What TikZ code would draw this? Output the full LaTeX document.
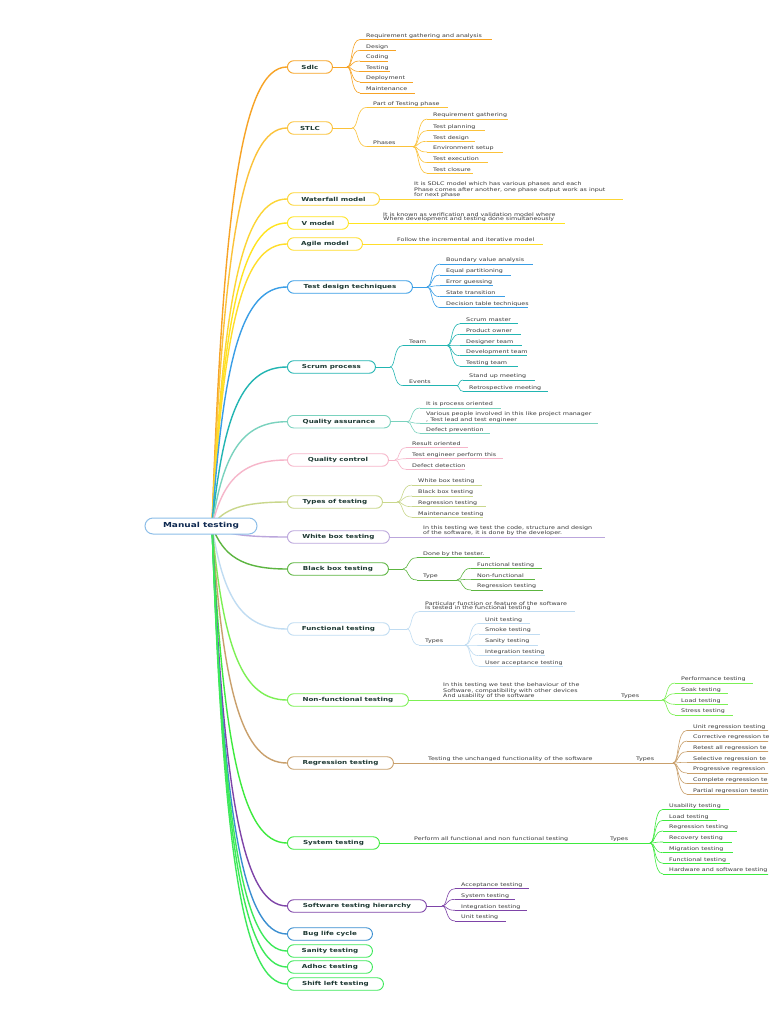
\documentclass[tikz,border=0pt]{standalone}
\usepackage{fontspec}
\setmainfont{DejaVu Sans}
\newfontfamily\leafFont[FakeStretch=1.3]{DejaVu Sans}
\usetikzlibrary{calc}
\definecolor{csdlc}{HTML}{F7A325}
\definecolor{cstlc}{HTML}{FBC23A}
\definecolor{cwater}{HTML}{FCD535}
\definecolor{cvmod}{HTML}{FFE41F}
\definecolor{cagile}{HTML}{FFDD2A}
\definecolor{ctdt}{HTML}{3A9EE6}
\definecolor{cscrum}{HTML}{22B5B2}
\definecolor{cqa}{HTML}{7AD2BE}
\definecolor{cqc}{HTML}{F6B6CA}
\definecolor{ctypes}{HTML}{C9D78C}
\definecolor{cwhite}{HTML}{BBA6DC}
\definecolor{cblack}{HTML}{5CB540}
\definecolor{cfunc}{HTML}{C0DCF2}
\definecolor{cnonf}{HTML}{7CF054}
\definecolor{creg}{HTML}{C9A06C}
\definecolor{csys}{HTML}{3EEA3E}
\definecolor{chier}{HTML}{7E44A8}
\definecolor{cbug}{HTML}{3A8ED0}
\definecolor{csan}{HTML}{3DE95A}
\definecolor{croot}{HTML}{8DBEE8}
\definecolor{roottxt}{HTML}{0D2850}
\definecolor{maintxt}{HTML}{1F3A34}
\definecolor{leafgray}{HTML}{3A3A3A}
\tikzset{
 leaftxt/.style={inner sep=0pt, text depth=0pt, anchor=south west, align=left,
   font=\leafFont\fontsize{4.9}{4.5}\selectfont, text=leafgray},
 mainbox/.style={draw, line width=0.9pt, rounded corners=6.2pt, fill=white,
   minimum height=12.5pt, inner sep=0pt, anchor=west,
   font=\leafFont\bfseries\fontsize{5.5}{6}\selectfont, text=maintxt},
 rootbox/.style={draw=croot, line width=1pt, rounded corners=8pt, fill=white,
   minimum width=112pt, minimum height=16pt, inner sep=0pt,
   font=\leafFont\bfseries\fontsize{6.9}{8}\selectfont, text=roottxt},
 cline/.style={line width=0.6pt},
 uline/.style={line width=0.9pt},
 rline/.style={line width=1.4pt},
}
% leaf: name, colour, text x, underline y, underline end x, text
\newcommand\leaf[6]{%
  \node[leaftxt] (#1) at (#3,#4-2) {#6};
  \coordinate (#1-s) at (#3-6,#4);
  \coordinate (#1-e) at (#5,#4);
  \draw[uline,#2] (#1-s) -- (#1-e);
}
\newcommand\conn[3]{\draw[cline,#1] let \p1=(#2), \p2=(#3) in
  (\p1) .. controls ({\x1+0.45*(\x2-\x1)},\y1) and ({\x1+0.25*(\x2-\x1)},\y2) .. (\p2);}
\newcommand\rconn[2]{\draw[rline,#1] let \p1=(rootc), \p2=(#2.west) in
  (\p1) .. controls ({\x1+0.15*(\x2-\x1)},{\y1+0.7*(\y2-\y1)}) and ({\x1+0.4*(\x2-\x1)},\y2) .. (\p2);}
\begin{document}
\begin{tikzpicture}[x=1pt,y=-1pt]
\useasboundingbox (0,0) rectangle (768,1024);
\fill[white] (0,0) rectangle (768,1024);
\clip (0,0) rectangle (768,1024);
\coordinate (rootc) at (212,526);
% main nodes
\node[mainbox, draw=csdlc, minimum width=45pt] (sdlc) at (287,67) {Sdlc};
\node[mainbox, draw=cstlc, minimum width=45pt] (stlc) at (287,128) {STLC};
\node[mainbox, draw=cwater, minimum width=92pt] (water) at (287,199) {Waterfall model};
\node[mainbox, draw=cvmod, minimum width=61pt] (vmod) at (287,223) {V model};
\node[mainbox, draw=cagile, minimum width=75pt] (agile) at (287,244) {Agile model};
\node[mainbox, draw=ctdt, minimum width=125pt] (tdt) at (287,287) {Test design techniques};
\node[mainbox, draw=cscrum, minimum width=88pt] (scrum) at (287,367) {Scrum process};
\node[mainbox, draw=cqa, minimum width=103pt] (qa) at (287,421.7) {Quality assurance};
\node[mainbox, draw=cqc, minimum width=101pt] (qc) at (287,460) {Quality control};
\node[mainbox, draw=ctypes, minimum width=95pt] (types) at (287,502) {Types of testing};
\node[mainbox, draw=cwhite, minimum width=102pt] (white) at (287,537) {White box testing};
\node[mainbox, draw=cblack, minimum width=101pt] (black) at (287,569) {Black box testing};
\node[mainbox, draw=cfunc, minimum width=102pt] (func) at (287,629) {Functional testing};
\node[mainbox, draw=cnonf, minimum width=121pt] (nonf) at (287,700) {Non-functional testing};
\node[mainbox, draw=creg, minimum width=106pt] (reg) at (287,763) {Regression testing};
\node[mainbox, draw=csys, minimum width=92pt] (sys) at (287,843) {System testing};
\node[mainbox, draw=chier, minimum width=139pt] (hier) at (287,906) {Software testing hierarchy};
\node[mainbox, draw=cbug, minimum width=85pt] (bug) at (287,934) {Bug life cycle};
\node[mainbox, draw=csan, minimum width=85pt] (sanity) at (287,951) {Sanity testing};
\node[mainbox, draw=csan, minimum width=85pt] (adhoc) at (287,967) {Adhoc testing};
\node[mainbox, draw=csan, minimum width=96pt] (shift) at (287,984) {Shift left testing};
% root connectors
\rconn{csdlc}{sdlc}
\rconn{cstlc}{stlc}
\rconn{cwater}{water}
\rconn{cvmod}{vmod}
\rconn{cagile}{agile}
\rconn{ctdt}{tdt}
\rconn{cscrum}{scrum}
\rconn{cqa}{qa}
\rconn{cqc}{qc}
\rconn{ctypes}{types}
\rconn{cwhite}{white}
\rconn{cblack}{black}
\rconn{cfunc}{func}
\rconn{cnonf}{nonf}
\rconn{creg}{reg}
\rconn{csys}{sys}
\rconn{chier}{hier}
\rconn{cbug}{bug}
\rconn{csan}{sanity}
\rconn{csan}{adhoc}
\rconn{csan}{shift}
\node[rootbox] (root) at (201,526) {Manual testing};
% Sdlc
\leaf{s1}{csdlc}{366}{39.5}{492}{Requirement gathering and analysis}
\leaf{s2}{csdlc}{366}{50.3}{396}{Design}
\leaf{s3}{csdlc}{366}{61}{388}{Coding}
\leaf{s4}{csdlc}{366}{71.5}{390}{Testing}
\leaf{s5}{csdlc}{366}{82}{413}{Deployment}
\leaf{s6}{csdlc}{366}{93}{415}{Maintenance}
\coordinate (sdlcB) at (347,67);
\draw[cline,csdlc] (sdlc.east) -- (sdlcB);
\foreach \k in {s1,s2,s3,s4,s5,s6} {\conn{csdlc}{sdlcB}{\k-s}}
% STLC
\leaf{t1}{cstlc}{373}{107.3}{448}{Part of Testing phase}
\leaf{t2}{cstlc}{373}{146.7}{413}{Phases}
\leaf{t21}{cstlc}{433}{119}{508}{Requirement gathering}
\leaf{t22}{cstlc}{433}{130.7}{485}{Test planning}
\leaf{t23}{cstlc}{433}{141.3}{475}{Test design}
\leaf{t24}{cstlc}{433}{152}{503}{Environment setup}
\leaf{t25}{cstlc}{433}{162.7}{488}{Test execution}
\leaf{t26}{cstlc}{433}{173.3}{473}{Test closure}
\coordinate (stlcB) at (352,128);
\draw[cline,cstlc] (stlc.east) -- (stlcB);
\foreach \k in {t1,t2} {\conn{cstlc}{stlcB}{\k-s}}
\foreach \k in {t21,t22,t23,t24,t25,t26} {\conn{cstlc}{t2-e}{\k-s}}
% Waterfall, V, Agile
\leaf{w1}{cwater}{414}{199}{623}{It is SDLC model  which has various phases and each\\Phase comes after another, one phase output work as input\\for next phase}
\draw[cline,cwater] (water.east) -- (w1-s);
\leaf{v1}{cvmod}{383}{223}{565}{It is known as verification and validation model where\\Where development and testing done simultaneously}
\draw[cline,cvmod] (vmod.east) -- (v1-s);
\leaf{a1}{cagile}{397}{244}{543}{Follow the incremental and iterative model}
\draw[cline,cagile] (agile.east) -- (a1-s);
% Test design techniques
\leaf{d1}{ctdt}{446}{264}{533}{Boundary value analysis}
\leaf{d2}{ctdt}{446}{275}{511}{Equal partitioning}
\leaf{d3}{ctdt}{446}{285.7}{493}{Error guessing}
\leaf{d4}{ctdt}{446}{296.7}{505}{State transition}
\leaf{d5}{ctdt}{446}{307.7}{528}{Decision table techniques}
\coordinate (tdtB) at (427,287);
\draw[cline,ctdt] (tdt.east) -- (tdtB);
\foreach \k in {d1,d2,d3,d4,d5} {\conn{ctdt}{tdtB}{\k-s}}
% Scrum
\leaf{sc1}{cscrum}{409}{345.5}{447}{Team}
\leaf{sc2}{cscrum}{409}{385.7}{457}{Events}
\leaf{sc11}{cscrum}{466}{323.7}{518}{Scrum master}
\leaf{sc12}{cscrum}{466}{334.3}{521}{Product owner}
\leaf{sc13}{cscrum}{466}{345.3}{522}{Designer team}
\leaf{sc14}{cscrum}{466}{355.7}{527}{Development team}
\leaf{sc15}{cscrum}{466}{366.3}{518}{Testing team}
\leaf{sc21}{cscrum}{469}{380}{535}{Stand up meeting}
\leaf{sc22}{cscrum}{469}{391.3}{548}{Retrospective meeting}
\coordinate (scrumB) at (390,367);
\draw[cline,cscrum] (scrum.east) -- (scrumB);
\foreach \k in {sc1,sc2} {\conn{cscrum}{scrumB}{\k-s}}
\foreach \k in {sc11,sc12,sc13,sc14,sc15} {\conn{cscrum}{sc1-e}{\k-s}}
\foreach \k in {sc21,sc22} {\conn{cscrum}{sc2-e}{\k-s}}
% Quality assurance
\leaf{qa1}{cqa}{426}{408}{501}{It is process oriented}
\leaf{qa2}{cqa}{426}{423.3}{598}{Various people involved in this like project manager\\, Test lead and test engineer}
\leaf{qa3}{cqa}{426}{433.3}{490}{Defect prevention}
\coordinate (qaB) at (407,421.7);
\draw[cline,cqa] (qa.east) -- (qaB);
\foreach \k in {qa1,qa2,qa3} {\conn{cqa}{qaB}{\k-s}}
% Quality control
\leaf{qc1}{cqc}{412}{447.7}{468}{Result oriented}
\leaf{qc2}{cqc}{412}{458.7}{503}{Test engineer perform this}
\leaf{qc3}{cqc}{412}{469.3}{465}{Defect detection}
\coordinate (qcB) at (395,460);
\draw[cline,cqc] (qc.east) -- (qcB);
\foreach \k in {qc1,qc2,qc3} {\conn{cqc}{qcB}{\k-s}}
% Types of testing
\leaf{ty1}{ctypes}{418}{485}{482}{White box testing}
\leaf{ty2}{ctypes}{418}{496}{473}{Black box testing}
\leaf{ty3}{ctypes}{418}{506.7}{486}{Regression testing}
\leaf{ty4}{ctypes}{418}{517.3}{483}{Maintenance testing}
\coordinate (typesB) at (397,502);
\draw[cline,ctypes] (types.east) -- (typesB);
\foreach \k in {ty1,ty2,ty3,ty4} {\conn{ctypes}{typesB}{\k-s}}
% White box
\leaf{wb1}{cwhite}{423}{537}{605}{In this testing we test the code,  structure and design\\of the software, it is done by the developer.}
\draw[cline,cwhite] (white.east) -- (wb1-s);
% Black box
\leaf{bb1}{cblack}{423}{557.7}{490}{Done by the tester.}
\leaf{bb2}{cblack}{423}{580}{457}{Type}
\leaf{bb21}{cblack}{477}{568.3}{542}{Functional testing}
\leaf{bb22}{cblack}{477}{579.3}{535}{Non-functional}
\leaf{bb23}{cblack}{477}{590}{543}{Regression testing}
\coordinate (blackB) at (403,569);
\draw[cline,cblack] (black.east) -- (blackB);
\foreach \k in {bb1,bb2} {\conn{cblack}{blackB}{\k-s}}
\foreach \k in {bb21,bb22,bb23} {\conn{cblack}{bb2-e}{\k-s}}
% Functional
\leaf{ft1}{cfunc}{425}{611.7}{575}{Particular function or feature of the software\\Is tested in the functional testing}
\leaf{ft2}{cfunc}{425}{645}{465}{Types}
\leaf{ft21}{cfunc}{485}{623.3}{530}{Unit testing}
\leaf{ft22}{cfunc}{485}{634}{540}{Smoke testing}
\leaf{ft23}{cfunc}{485}{645}{538}{Sanity testing}
\leaf{ft24}{cfunc}{485}{655.7}{545}{Integration testing}
\leaf{ft25}{cfunc}{485}{666.3}{563}{User acceptance testing}
\coordinate (funcB) at (407,629);
\draw[cline,cfunc] (func.east) -- (funcB);
\foreach \k in {ft1,ft2} {\conn{cfunc}{funcB}{\k-s}}
\foreach \k in {ft21,ft22,ft23,ft24,ft25} {\conn{cfunc}{ft2-e}{\k-s}}
% Non-functional
\leaf{nf1}{cnonf}{443}{700}{588}{In this testing we test the behaviour of the\\Software, compatibility with other devices\\And usability of the software}
\leaf{nf2}{cnonf}{621}{700}{662}{Types}
\leaf{nf21}{cnonf}{681}{683}{753}{Performance testing}
\leaf{nf22}{cnonf}{681}{693.7}{728}{Soak testing}
\leaf{nf23}{cnonf}{681}{704.3}{728}{Load testing}
\leaf{nf24}{cnonf}{681}{715}{733}{Stress testing}
\draw[cline,cnonf] (nonf.east) -- (nf1-s);
\draw[cline,cnonf] (nf1-e) -- (nf2-s);
\foreach \k in {nf21,nf22,nf23,nf24} {\conn{cnonf}{nf2-e}{\k-s}}
% Regression
\leaf{rg1}{creg}{428}{763}{602}{Testing the unchanged functionality of the software}
\leaf{rg2}{creg}{636}{763}{673}{Types}
\leaf{rg21}{creg}{693}{730.3}{770}{Unit regression testing}
\leaf{rg22}{creg}{693}{741}{770}{Corrective regression te}
\leaf{rg23}{creg}{693}{751.7}{770}{Retest all regression te}
\leaf{rg24}{creg}{693}{762.3}{770}{Selective regression te}
\leaf{rg25}{creg}{693}{773}{770}{Progressive regression}
\leaf{rg26}{creg}{693}{783.7}{770}{Complete regression te}
\leaf{rg27}{creg}{693}{794.3}{770}{Partial regression testin}
\draw[cline,creg] (reg.east) -- (rg1-s);
\draw[cline,creg] (rg1-e) -- (rg2-s);
\foreach \k in {rg21,rg22,rg23,rg24,rg25,rg26,rg27} {\conn{creg}{rg2-e}{\k-s}}
% System
\leaf{sy1}{csys}{414}{843}{577}{Perform all functional and non functional testing}
\leaf{sy2}{csys}{610}{843}{650}{Types}
\leaf{sy21}{csys}{669}{809.3}{729}{Usability testing}
\leaf{sy22}{csys}{669}{820.3}{717}{Load testing}
\leaf{sy23}{csys}{669}{831}{737}{Regression testing}
\leaf{sy24}{csys}{669}{842}{732}{Recovery testing}
\leaf{sy25}{csys}{669}{852.7}{733}{Migration testing}
\leaf{sy26}{csys}{669}{863.3}{730}{Functional testing}
\leaf{sy27}{csys}{669}{874}{770}{Hardware and software testing}
\draw[cline,csys] (sys.east) -- (sy1-s);
\draw[cline,csys] (sy1-e) -- (sy2-s);
\foreach \k in {sy21,sy22,sy23,sy24,sy25,sy26,sy27} {\conn{csys}{sy2-e}{\k-s}}
% Hierarchy
\leaf{h1}{chier}{461}{888.7}{529}{Acceptance testing}
\leaf{h2}{chier}{461}{899.3}{515}{System testing}
\leaf{h3}{chier}{461}{910.3}{527}{Integration testing}
\leaf{h4}{chier}{461}{921}{506}{Unit testing}
\coordinate (hierB) at (442,906);
\draw[cline,chier] (hier.east) -- (hierB);
\foreach \k in {h1,h2,h3,h4} {\conn{chier}{hierB}{\k-s}}
\end{tikzpicture}
\end{document}
